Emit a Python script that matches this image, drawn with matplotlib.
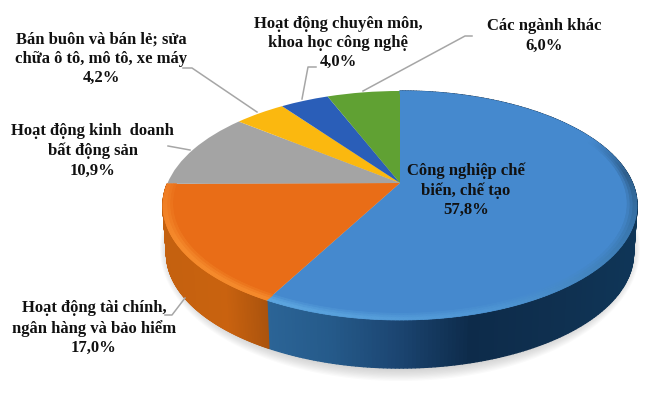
import numpy as np
import matplotlib
matplotlib.use("Agg")
import matplotlib.pyplot as plt
from matplotlib.transforms import Transform
from matplotlib.collections import PolyCollection
from matplotlib.colors import to_rgb

categories = ["Công nghiệp chế biến, chế tạo",
              "Hoạt động tài chính, ngân hàng và bảo hiểm",
              "Hoạt động kinh doanh bất động sản",
              "Bán buôn và bán lẻ; sửa chữa ô tô, mô tô, xe máy",
              "Hoạt động chuyên môn, khoa học công nghệ",
              "Các ngành khác"]
values = [57.8, 17.0, 10.9, 4.2, 4.0, 6.0]
colors = ["#4589CE", "#E96D17", "#A4A4A4", "#FBB80F", "#2A5EB8", "#60A133"]
labels = ["Công nghiệp chế\nbiến, chế tạo\n57,8%",
          "Hoạt động tài chính,\nngân hàng và bảo hiểm\n17,0%",
          "Hoạt động kinh  doanh\nbất động sản\n10,9%",
          "Bán buôn và bán lẻ; sửa\nchữa ô tô, mô tô, xe máy\n4,2%",
          "Hoạt động chuyên môn,\nkhoa học công nghệ\n4,0%",
          "Các ngành khác\n6,0%"]
label_xy = [(466, 190), (94, 328), (92.5, 151), (101, 59), (338, 43), (544, 36)]

A, B, K = 232.4, 110.1, 0.1965
CX, CY = 400.0, 184.0
DEPTH = 48.0


class Persp(Transform):
    input_dims = output_dims = 2
    is_separable = False
    has_inverse = False

    def transform_non_affine(self, xy):
        xy = np.asarray(xy, float)
        w = 1 + K * xy[:, 1]
        return np.column_stack([CX + A * xy[:, 0] / w, CY - B * xy[:, 1] / w])


persp = Persp()


def ramp(where, keys, shades):
    order = np.argsort(keys)
    rgb = np.array([to_rgb(c) for c in shades])[order]
    k = np.array(keys, float)[order]
    return np.column_stack([np.interp(where, k, rgb[:, j]) for j in range(3)])


fig = plt.figure(figsize=(6.5, 4.1), dpi=100)
ax = fig.add_axes([0, 0, 1, 1])

# soft shadow under the disc
th = np.linspace(0, 2 * np.pi, 240)
for g in np.linspace(1.0, 0.0, 12):
    ax.fill(400 + (230 + 10 * g) * np.cos(th), 250 + (118 + 14 * g) * np.sin(th),
            color="#808080", alpha=0.04, lw=0, zorder=1)

wedges, _ = ax.pie(values, colors=colors, startangle=90, counterclock=False,
                   wedgeprops=dict(linewidth=0), normalize=True)
for w in wedges:
    w.set_transform(persp + ax.transData)
    w.set_zorder(4)

# side wall and rim bevel, one small facet per step of each slice
side_keys = {0: ([268, 330, 400, 470, 560, 640],
                 ["#2B6496", "#255A8A", "#1B4470", "#0D2B4A", "#0F3050", "#0F3658"]),
             1: ([160, 225, 270], ["#C4610F", "#C9620F", "#A8520D"])}
# rim shade by direction on the disc, in degrees
rim_keys = {0: ([90, 25, 5, -25, -70, -118],
                [colors[0], colors[0], "#2F5F8C", "#3A78B0", "#4E95D4", "#5DA6E0"]),
            1: ([-118, -150, -180, -242], ["#F58A2C", "#F58A2C", "#EE7A22", "#EE7A22"])}
bounds = np.cumsum([0] + values) / sum(values)
for i in (0, 1):
    a0 = np.pi / 2 - 2 * np.pi * bounds[i]
    a1 = np.pi / 2 - 2 * np.pi * bounds[i + 1]
    ang = np.linspace(a0, a1, 260)
    uv = np.column_stack([np.cos(ang), np.sin(ang)])
    top = persp.transform_non_affine(uv)
    bot = np.column_stack([400 + 0.985 * (top[:, 0] - 400), top[:, 1] + DEPTH])
    xm = 0.5 * (top[:-1, 0] + top[1:, 0])
    col = ramp(xm, *side_keys[i])
    polys = [[top[n], top[n + 1], bot[n + 1], bot[n]] for n in range(len(xm))]
    ax.add_collection(PolyCollection(polys, facecolors=col, edgecolors=col, linewidths=1.0, zorder=3))
    # bevel: three bands fading from the slice colour to the rim shade
    dm = np.degrees(0.5 * (ang[:-1] + ang[1:]))
    shade = ramp(dm, *rim_keys[i])
    face = np.array(to_rgb(colors[i]))
    for r0, r1, mix in [(0.960, 0.972, 0.35), (0.972, 0.984, 0.7), (0.984, 1.0, 1.0)]:
        inner = persp.transform_non_affine(uv * r0)
        outer = persp.transform_non_affine(uv * r1)
        c = face + (shade - face) * mix
        polys = [[inner[n], inner[n + 1], outer[n + 1], outer[n]] for n in range(len(xm))]
        ax.add_collection(PolyCollection(polys, facecolors=c, edgecolors=c, linewidths=0.5, zorder=5))

# leader lines
leaders = [[(183, 69), (192, 69), (257, 113)],
           [(316, 68), (308, 68), (302, 100)],
           [(363, 92), (465, 37), (472, 37)],
           [(168, 147), (190, 151)],
           [(185, 299), (172, 316), (165, 316)]]
for pts in leaders:
    p = np.array(pts)
    ax.plot(p[:, 0], p[:, 1], color="#A6A6A6", lw=1.1, zorder=6)

for t, (x, y) in zip(labels, label_xy):
    ax.text(x, y, t, ha="center", va="center", family="Liberation Serif", weight="bold",
            fontsize=12, color="#111111", linespacing=1.27, zorder=7)

ax.set_aspect("auto")
ax.set_xlim(0, 650)
ax.set_ylim(410, 0)
ax.axis("off")
fig.savefig("out.png", dpi=100, facecolor="white")
